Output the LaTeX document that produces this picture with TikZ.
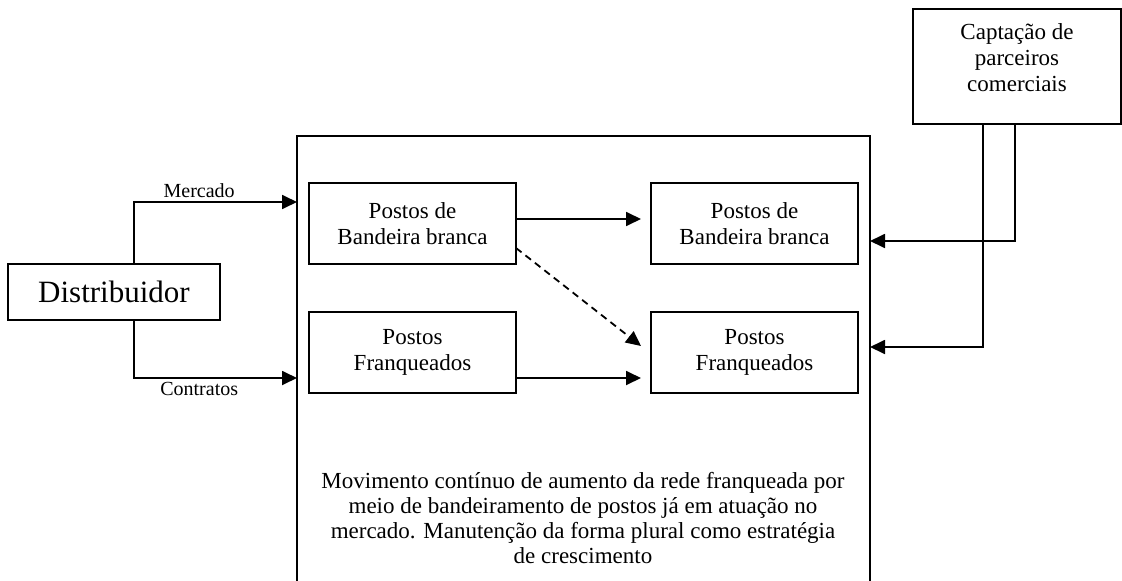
\documentclass[tikz,border=0pt]{standalone}
\usepackage{fontspec}
\setmainfont{Liberation Serif}
\usepackage{tikz}
\usetikzlibrary{positioning,arrows.meta}

\begin{document}
\begin{tikzpicture}[x=1pt, y=-1pt,
    caixa/.style={draw, line width=1.8pt, outer sep=0pt, align=center, font=\fontsize{23}{26}\selectfont},
    posto/.style={caixa, minimum width=207pt, minimum height=81pt},
    seta/.style={-{Triangle[length=15pt,width=14pt]}, line width=1.8pt},
    rotulo/.style={font=\fontsize{20}{24}\selectfont}]

    \useasboundingbox (0,0) rectangle (1122,581);
    \clip (0,0) rectangle (1122,581);

    % Draw the large box (the network)
    \node[caixa, minimum width=573pt, minimum height=484pt, anchor=north west] (rede) at (297,136) {};
    \node[font=\fontsize{23}{25}\selectfont, align=center] (movimento) at (583,518) {Movimento contínuo de aumento da rede franqueada por\\meio de bandeiramento de postos já em atuação no\\mercado. Manutenção da forma plural como estratégia\\de crescimento};

    % Draw the stations
    \node[posto] (brancaA) at (412.5,223.5) {Postos de\\Bandeira branca};
    \node[posto] (franqA) at (412.5,352.5) {Postos\\Franqueados};
    \node[posto] (brancaB) at (754.5,223.5) {Postos de\\Bandeira branca};
    \node[posto] (franqB) at (754.5,352.5) {Postos\\Franqueados};

    % Draw the distributor and the partners
    \node[caixa, minimum width=212pt, minimum height=56pt, font=\fontsize{31}{36}\selectfont] (dist) at (114,292) {Distribuidor};
    \node[caixa, minimum width=208pt, minimum height=115pt] (capt) at (1017,66.5) {Captação de\\parceiros\\comerciais\rule[-18pt]{0pt}{0pt}};

    % Draw the arrows from the distributor
    \draw[seta] ([xshift=20pt]dist.north) |- (rede.west |- 0,202) node[pos=0.7, above, rotulo] {Mercado};
    \draw[seta] ([xshift=20pt]dist.south) |- (rede.west |- 0,378) node[pos=0.7, below, rotulo] {Contratos};

    % Draw the arrows between the stations
    \draw[seta, shorten >=10pt] ([yshift=4.5pt]brancaA.east) -- ([yshift=4.5pt]brancaB.west);
    \draw[seta, shorten >=10pt] ([yshift=-25.5pt]franqA.east) -- ([yshift=-25.5pt]franqB.west);
    \draw[seta, dash pattern=on 7pt off 5pt] ([yshift=-24.5pt]brancaA.east) -- ([xshift=-10pt,yshift=6.5pt]franqB.west);

    % Draw the arrows from the partners
    \draw[seta] ([xshift=-2pt]capt.south) |- (rede.east |- 0,241);
    \draw[seta] ([xshift=-34pt]capt.south) |- (rede.east |- 0,347);

\end{tikzpicture}
\end{document}
